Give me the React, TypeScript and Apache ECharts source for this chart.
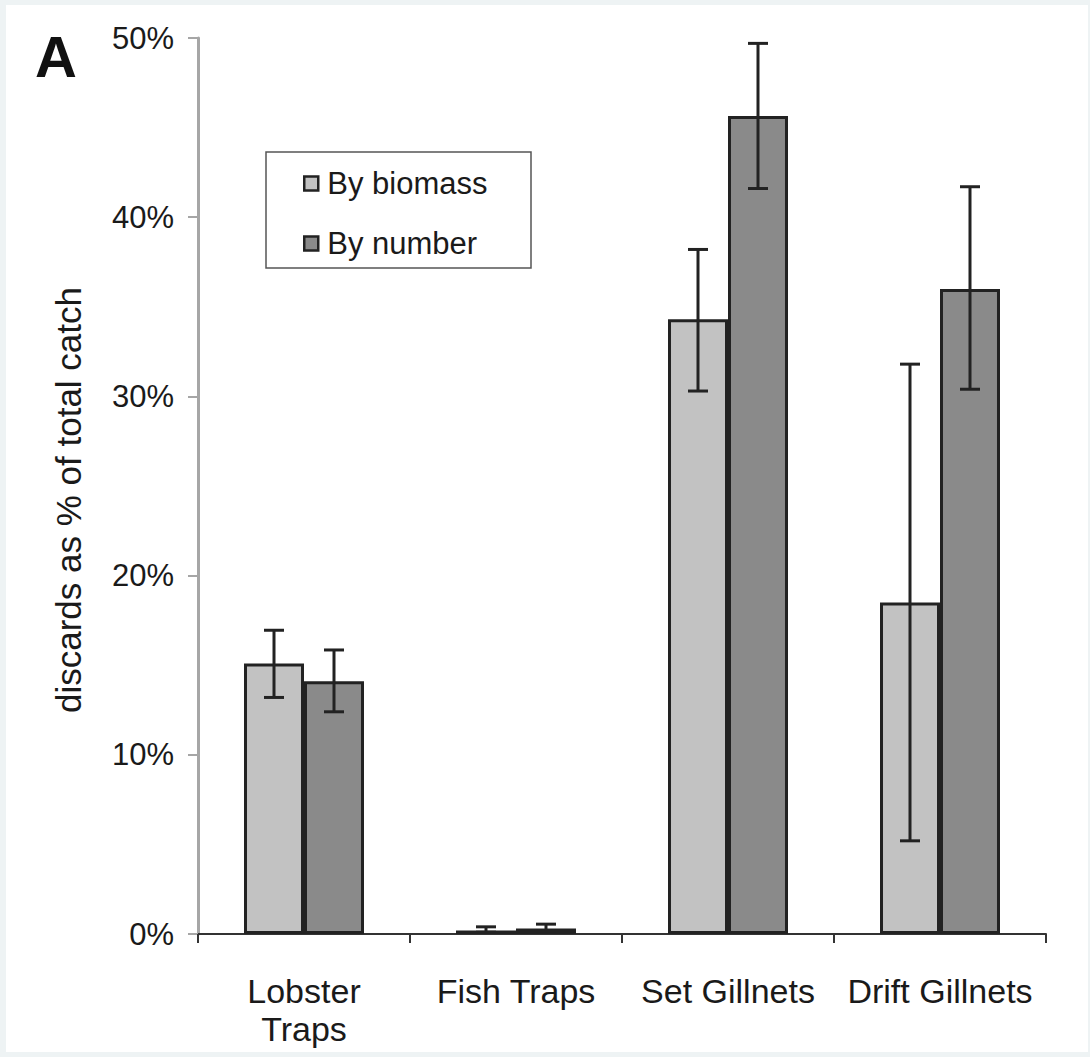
import React, { useEffect, useRef } from "react";
import * as echarts from "echarts";

const categories = ["Lobster\nTraps", "Fish Traps", "Set Gillnets", "Drift Gillnets"];
const seriesNames = ["By biomass", "By number"];
const biomass = [15.1, 0.2, 34.3, 18.5];
const biomassLow = [13.2, 0.1, 30.3, 5.2];
const biomassHigh = [16.95, 0.4, 38.2, 31.8];
const numberVals = [14.1, 0.3, 45.65, 36.0];
const numberLow = [12.4, 0.15, 41.6, 30.4];
const numberHigh = [15.85, 0.55, 49.7, 41.7];
const yMin = 0;
const yMax = 50;
const yInterval = 10;

const FONT = "'Liberation Sans', Arial, Helvetica, sans-serif";
const CAT_GAP = 0.434;

function makeErrorSeries(name: string, low: number[], high: number[], side: number) {
  return {
    name: name + " error",
    type: "custom",
    z: 5,
    silent: true,
    encode: { x: 0, y: [1, 2] },
    data: low.map((l, i) => [i, l, high[i]]),
    renderItem: (params: any, api: any) => {
      const xi = api.value(0);
      const lo = api.value(1);
      const hi = api.value(2);
      const p0 = api.coord([xi, lo]);
      const p1 = api.coord([xi, hi]);
      const band = api.size([1, 0])[0];
      const barW = (band * (1 - CAT_GAP)) / 2;
      const x = p0[0] + (side * barW) / 2;
      const cap = 10;
      const style = { stroke: "#222", lineWidth: 3 };
      return {
        type: "group",
        children: [
          { type: "line", shape: { x1: x, y1: p0[1], x2: x, y2: p1[1] }, style },
          { type: "line", shape: { x1: x - cap, y1: p0[1], x2: x + cap, y2: p0[1] }, style },
          { type: "line", shape: { x1: x - cap, y1: p1[1], x2: x + cap, y2: p1[1] }, style },
        ],
      };
    },
  };
}

export default function App() {
  const ref = useRef<HTMLDivElement>(null);
  useEffect(() => {
    document.body.style.margin = "0";
    if (!ref.current) return;
    const chart = echarts.init(ref.current, null, { renderer: "svg" });
    chart.setOption({
      animation: false,
      backgroundColor: "#eef3f4",
      textStyle: { fontFamily: FONT },
      graphic: [
        {
          type: "rect",
          z: -10,
          shape: { x: 6, y: 5, width: 1082, height: 1047 },
          style: { fill: "#ffffff" },
        },
        {
          type: "rect",
          z: 1,
          shape: { x: 266, y: 152, width: 265, height: 116 },
          style: { fill: "#ffffff", stroke: "#555", lineWidth: 1.5 },
        },
        {
          type: "text",
          x: 35,
          y: 27,
          style: { text: "A", fontSize: 58, fontWeight: "bold", fontFamily: FONT, fill: "#111" },
        },
        {
          type: "text",
          x: 68,
          y: 500,
          rotation: Math.PI / 2,
          style: {
            text: "discards as % of total catch",
            fontSize: 35,
            fontFamily: FONT,
            fill: "#1a1a1a",
            textAlign: "center",
            textVerticalAlign: "middle",
          },
        },
      ],
      legend: {
        orient: "vertical",
        left: 303,
        top: 168,
        padding: 0,
        itemGap: 29,
        itemWidth: 14,
        itemHeight: 14,
        z: 10,
        icon: "rect",
        itemStyle: { borderColor: "#222", borderWidth: 2.5 },
        textStyle: { fontSize: 31, fontFamily: FONT, color: "#1a1a1a", padding: [0, 0, 0, 4], lineHeight: 31 },
        data: seriesNames,
      },
      grid: { left: 198, right: 44, top: 38, bottom: 123, containLabel: false },
      xAxis: {
        type: "category",
        data: categories,
        boundaryGap: true,
        axisLine: { show: true, lineStyle: { color: "#333", width: 2 } },
        axisTick: { show: true, length: 9, lineStyle: { color: "#333", width: 2 } },
        axisLabel: {
          fontSize: 34,
          fontFamily: FONT,
          color: "#1a1a1a",
          margin: 38,
          lineHeight: 38,
          interval: 0,
        },
        splitLine: { show: false },
      },
      yAxis: {
        type: "value",
        min: yMin,
        max: yMax,
        interval: yInterval,
        axisLine: { show: true, lineStyle: { color: "#a6a6a6", width: 3 } },
        axisTick: { show: true, length: 10, lineStyle: { color: "#a6a6a6", width: 2 } },
        axisLabel: {
          fontSize: 31,
          fontFamily: FONT,
          color: "#1a1a1a",
          margin: 24,
          formatter: "{value}%",
        },
        splitLine: { show: false },
      },
      series: [
        {
          name: seriesNames[0],
          type: "bar",
          data: biomass,
          barGap: "0%",
          barCategoryGap: (CAT_GAP * 100).toFixed(1) + "%",
          itemStyle: { color: "#c2c2c2", borderColor: "#222", borderWidth: 3 },
          z: 2,
        },
        {
          name: seriesNames[1],
          type: "bar",
          data: numberVals,
          barGap: "0%",
          barCategoryGap: (CAT_GAP * 100).toFixed(1) + "%",
          itemStyle: { color: "#8a8a8a", borderColor: "#222", borderWidth: 3 },
          z: 2,
        },
        makeErrorSeries(seriesNames[0], biomassLow, biomassHigh, -1),
        makeErrorSeries(seriesNames[1], numberLow, numberHigh, 1),
      ],
    });
    return () => chart.dispose();
  }, []);
  return (
    <div
      ref={ref}
      style={{ position: "absolute", left: 0, top: 0, width: 1090, height: 1057 }}
    />
  );
}
